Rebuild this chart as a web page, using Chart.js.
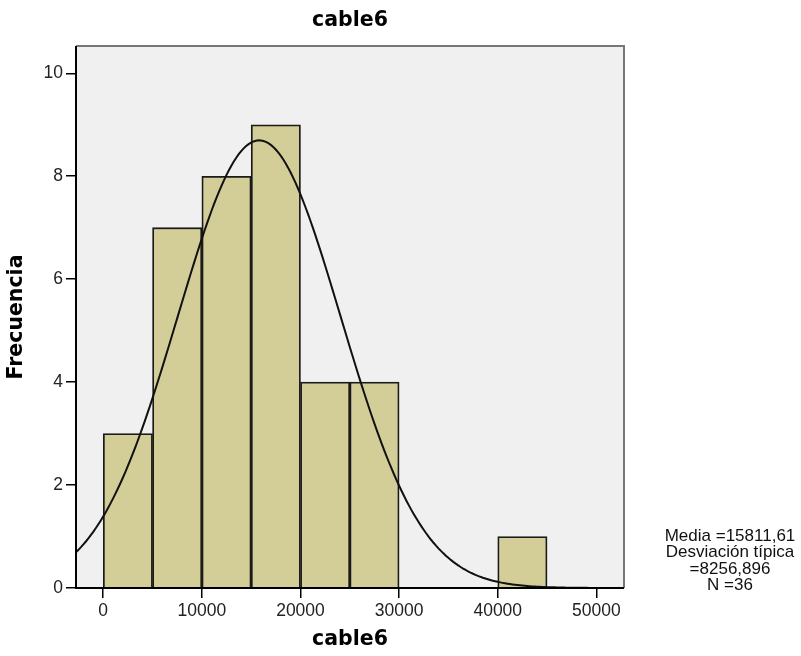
<!DOCTYPE html>
<html lang="es">
<head>
  <meta charset="UTF-8" />
  <title>cable6</title>
  <script src="https://cdn.jsdelivr.net/npm/chart.js"></script>
  <style>
    body { margin: 0; background: #fff; }
    #wrap { width: 801px; height: 656px; }
  </style>
</head>
<body>
  <div id="wrap"><canvas id="hist"></canvas></div>
  <script>
    // histogram bins (lower edge of each 5000-wide bin) and counts
    const binStarts = [0, 5000, 10000, 15000, 20000, 25000, 40000];
    const counts = [3, 7, 8, 9, 4, 4, 1];
    const binWidth = 5000;
    const xTicks = [0, 10000, 20000, 30000, 40000, 50000];
    const yTicks = [0, 2, 4, 6, 8, 10];
    const mean = 15811.61;
    const sd = 8256.896;
    const n = 36;
    const statLines = ['Media =15811,61', 'Desviación típica', '=8256,896', 'N =36'];

    const xMin = -2760, xMax = 52800;
    const yMax = 10.53;

    const tickFont = { size: 17.5, family: '"Liberation Sans", Arial, sans-serif' };
    const titleFont = { size: 20.5, weight: 'bold', family: '"DejaVu Sans", sans-serif' };

    // normal curve scaled to the histogram (N * bin width * density)
    const curve = [];
    for (let x = xMin; x <= xMax; x += 250) {
      const z = (x - mean) / sd;
      curve.push({ x: x, y: n * binWidth * Math.exp(-0.5 * z * z) / (sd * Math.sqrt(2 * Math.PI)) });
    }

    const frame = {
      id: 'frame',
      beforeDraw(chart) {
        const { ctx, chartArea: a } = chart;
        ctx.save();
        ctx.fillStyle = '#f0f0f0';
        ctx.fillRect(a.left, a.top, a.right - a.left, a.bottom - a.top);
        ctx.restore();
      },
      afterDraw(chart) {
        const { ctx, chartArea: a } = chart;
        ctx.save();
        ctx.strokeStyle = '#777';
        ctx.lineWidth = 2;
        ctx.beginPath();
        ctx.moveTo(a.left, a.top);
        ctx.lineTo(a.right, a.top);
        ctx.lineTo(a.right, a.bottom);
        ctx.stroke();
        ctx.strokeStyle = '#000';
        ctx.beginPath();
        ctx.moveTo(a.left, a.top);
        ctx.lineTo(a.left, a.bottom);
        ctx.lineTo(a.right, a.bottom);
        ctx.stroke();

        ctx.fillStyle = '#000';
        ctx.textAlign = 'center';
        ctx.textBaseline = 'middle';
        ctx.font = 'bold 20.5px "DejaVu Sans", sans-serif';
        ctx.fillText('cable6', (a.left + a.right) / 2, 21);

        ctx.fillStyle = '#111';
        ctx.font = '17px "Liberation Sans", Arial, sans-serif';
        statLines.forEach((t, i) => ctx.fillText(t, 730, 536 + i * 16.6));
        ctx.restore();
      }
    };

    new Chart(document.getElementById('hist'), {
      data: {
        datasets: [{
          type: 'line',
          data: curve,
          borderColor: '#111',
          borderWidth: 2,
          pointRadius: 0,
          tension: 0,
          order: 0
        }, {
          type: 'bar',
          data: binStarts.map((b, i) => ({ x: b + binWidth / 2, y: counts[i] })),
          backgroundColor: '#d3ce98',
          borderColor: '#1a1a1a',
          borderWidth: 1.8,
          barPercentage: 1,
          categoryPercentage: 1,
          order: 1
        }]
      },
      options: {
        responsive: true,
        maintainAspectRatio: false,
        animation: false,
        layout: { padding: { top: 46, right: 177, left: 0, bottom: 0 } },
        plugins: { legend: { display: false }, tooltip: { enabled: false } },
        scales: {
          x: {
            type: 'linear',
            offset: false,
            min: xMin,
            max: xMax,
            afterBuildTicks: s => { s.ticks = xTicks.map(v => ({ value: v })); },
            afterFit: s => { s.height = 68; },
            grid: { offset: false, drawOnChartArea: false, drawTicks: true, tickLength: 10, color: '#000', lineWidth: 1.5 },
            border: { display: false },
            ticks: { color: '#222', padding: 3, font: tickFont, callback: v => String(v) },
            title: { display: true, text: 'cable6', color: '#000', padding: { top: 1 }, font: titleFont }
          },
          y: {
            min: 0,
            max: yMax,
            afterBuildTicks: s => { s.ticks = yTicks.map(v => ({ value: v })); },
            afterFit: s => { s.width = 76; },
            grid: { drawOnChartArea: false, drawTicks: true, tickLength: 10, color: '#000', lineWidth: 1.5 },
            border: { display: false },
            ticks: { color: '#222', padding: 3, font: tickFont, callback: v => String(v) },
            title: { display: true, text: 'Frecuencia', color: '#000', padding: { bottom: 4 }, font: titleFont }
          }
        }
      },
      plugins: [frame]
    });
  </script>
</body>
</html>
